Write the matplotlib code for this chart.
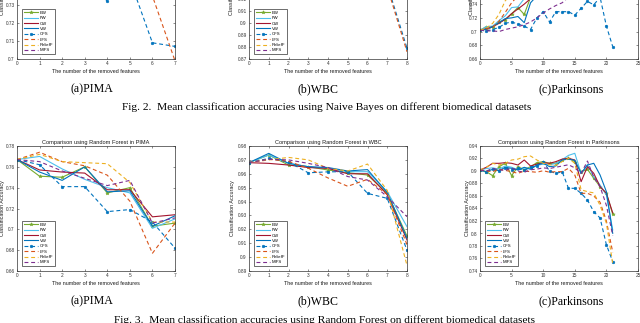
import matplotlib
matplotlib.use('Agg')
import matplotlib.pyplot as plt
from matplotlib.ticker import FuncFormatter, MultipleLocator

plt.rcParams['font.family'] = ['Liberation Sans', 'DejaVu Sans']

LABELS = ['EW', 'FW', 'CW', 'VW', 'CFS', 'LFS', 'ReliefF', 'MIFS']

# ---- Naive Bayes (Fig. 2), series in LABELS order ----
nb_pima = [
    [0.759, 0.760, 0.762, 0.763, 0.760, 0.758, 0.752, 0.748],
    [0.759, 0.761, 0.762, 0.762, 0.760, 0.757, 0.751, 0.747],
    [0.759, 0.760, 0.761, 0.762, 0.761, 0.758, 0.753, 0.749],
    [0.759, 0.761, 0.763, 0.763, 0.761, 0.758, 0.752, 0.748],
    [0.759, 0.757, 0.752, 0.748, 0.732, 0.744, 0.709, 0.707],
    [0.759, 0.758, 0.756, 0.753, 0.750, 0.748, 0.735, 0.699],
    [0.759, 0.762, 0.763, 0.762, 0.760, 0.756, 0.750, 0.745],
    [0.759, 0.758, 0.757, 0.756, 0.754, 0.752, 0.748, 0.745],
]
nb_wbc = [
    [0.955, 0.958, 0.960, 0.960, 0.958, 0.957, 0.955, 0.950, 0.935],
    [0.955, 0.957, 0.959, 0.960, 0.959, 0.957, 0.954, 0.948, 0.932],
    [0.955, 0.958, 0.960, 0.961, 0.960, 0.958, 0.955, 0.950, 0.936],
    [0.955, 0.957, 0.959, 0.960, 0.958, 0.956, 0.954, 0.949, 0.933],
    [0.955, 0.955, 0.953, 0.950, 0.948, 0.945, 0.940, 0.932, 0.879],
    [0.955, 0.953, 0.950, 0.948, 0.946, 0.944, 0.938, 0.930, 0.876],
    [0.955, 0.956, 0.956, 0.955, 0.953, 0.950, 0.946, 0.940, 0.925],
    [0.955, 0.955, 0.954, 0.952, 0.950, 0.947, 0.943, 0.937, 0.921],
]
nb_park = [
    [0.702, 0.707, 0.707, 0.714, 0.717, 0.726, 0.735, 0.725, 0.750, 0.760, 0.765,
     0.770, 0.772, 0.775, 0.778, 0.780, 0.782, 0.785, 0.788, 0.790, 0.785, 0.780],
    [0.702, 0.707, 0.708, 0.716, 0.723, 0.735, 0.736, 0.748, 0.755, 0.760, 0.764,
     0.768, 0.772, 0.776, 0.779, 0.781, 0.783, 0.786, 0.789, 0.788, 0.784, 0.778],
    [0.702, 0.704, 0.707, 0.712, 0.718, 0.726, 0.733, 0.740, 0.748, 0.755, 0.760,
     0.765, 0.770, 0.774, 0.777, 0.780, 0.782, 0.784, 0.786, 0.787, 0.783, 0.779],
    [0.702, 0.703, 0.707, 0.713, 0.719, 0.720, 0.722, 0.713, 0.742, 0.752, 0.758,
     0.763, 0.768, 0.772, 0.776, 0.779, 0.781, 0.784, 0.787, 0.786, 0.782, 0.776],
    [0.702, 0.701, 0.703, 0.706, 0.712, 0.714, 0.711, 0.708, 0.703, 0.720, 0.729,
     0.714, 0.729, 0.729, 0.729, 0.724, 0.734, 0.744, 0.739, 0.750, 0.708, 0.678],
    [0.702, 0.703, 0.706, 0.715, 0.728, 0.742, 0.752, 0.758, 0.762, 0.766, 0.770,
     0.772, 0.775, 0.777, 0.779, 0.780, 0.781, 0.782, 0.783, 0.781, 0.776, 0.770],
    [0.702, 0.705, 0.712, 0.725, 0.745, 0.755, 0.760, 0.764, 0.768, 0.771, 0.774,
     0.776, 0.778, 0.780, 0.782, 0.784, 0.785, 0.786, 0.786, 0.784, 0.779, 0.772],
    [0.702, 0.701, 0.701, 0.700, 0.703, 0.705, 0.707, 0.710, 0.714, 0.720, 0.727,
     0.733, 0.738, 0.742, 0.750, 0.755, 0.760, 0.764, 0.767, 0.768, 0.765, 0.760],
]

# ---- Random Forest (Fig. 3) ----
rf_pima = [
    [0.767, 0.751, 0.750, 0.760, 0.735, 0.740, 0.703, 0.706],
    [0.767, 0.770, 0.758, 0.748, 0.740, 0.735, 0.701, 0.710],
    [0.767, 0.757, 0.755, 0.754, 0.738, 0.738, 0.712, 0.714],
    [0.767, 0.755, 0.747, 0.760, 0.736, 0.737, 0.703, 0.713],
    [0.767, 0.762, 0.741, 0.741, 0.717, 0.719, 0.707, 0.682],
    [0.767, 0.774, 0.765, 0.761, 0.752, 0.727, 0.677, 0.706],
    [0.767, 0.772, 0.765, 0.764, 0.763, 0.745, 0.707, 0.707],
    [0.767, 0.765, 0.756, 0.749, 0.742, 0.747, 0.706, 0.711],
]
rf_wbc = [
    [0.968, 0.9735, 0.9663, 0.9651, 0.9627, 0.9608, 0.9591, 0.9459, 0.9152],
    [0.968, 0.9735, 0.9675, 0.9651, 0.9639, 0.9615, 0.9615, 0.9471, 0.9219],
    [0.968, 0.9675, 0.9663, 0.9645, 0.9639, 0.9600, 0.9600, 0.9450, 0.9123],
    [0.968, 0.9747, 0.9675, 0.9651, 0.9645, 0.9620, 0.9630, 0.9465, 0.9135],
    [0.968, 0.9711, 0.9685, 0.9607, 0.9614, 0.9615, 0.9459, 0.9423, 0.9050],
    [0.968, 0.9704, 0.9690, 0.9640, 0.9570, 0.9510, 0.9560, 0.9450, 0.9090],
    [0.968, 0.9700, 0.9718, 0.9700, 0.9639, 0.9620, 0.9670, 0.9480, 0.8940],
    [0.968, 0.9704, 0.9700, 0.9675, 0.9645, 0.9580, 0.9555, 0.9435, 0.9291],
]
rf_park = [
    [0.9016, 0.8990, 0.8925, 0.9070, 0.9123, 0.8925, 0.9070, 0.9020, 0.9070, 0.9133, 0.9150,
     0.9123, 0.9123, 0.9176, 0.9203, 0.9150, 0.8989, 0.9027, 0.8883, 0.8749, 0.8643, 0.8310],
    [0.9016, 0.9040, 0.9050, 0.9030, 0.9080, 0.9060, 0.9020, 0.9050, 0.9040, 0.9090, 0.9110,
     0.9100, 0.9120, 0.9180, 0.9250, 0.9283, 0.8960, 0.9100, 0.8909, 0.8776, 0.8616, 0.8056],
    [0.9016, 0.9059, 0.9123, 0.9123, 0.9133, 0.9123, 0.9096, 0.9176, 0.9080, 0.9110, 0.9133,
     0.9123, 0.9150, 0.9190, 0.9203, 0.9176, 0.8829, 0.9070, 0.8963, 0.8749, 0.8643, 0.8330],
    [0.9016, 0.8989, 0.9027, 0.9005, 0.9059, 0.9043, 0.9016, 0.9059, 0.9027, 0.9096, 0.9123,
     0.9070, 0.9080, 0.9176, 0.9190, 0.9170, 0.8963, 0.9096, 0.9123, 0.8936, 0.8669, 0.8003],
    [0.9016, 0.8990, 0.9030, 0.9000, 0.9050, 0.9020, 0.9040, 0.9010, 0.9060, 0.9080, 0.9150,
     0.9000, 0.8960, 0.8989, 0.8723, 0.8723, 0.8643, 0.8536, 0.8349, 0.8248, 0.7820, 0.7550],
    [0.9016, 0.9000, 0.8989, 0.9027, 0.9010, 0.8989, 0.8963, 0.9000, 0.8989, 0.8980, 0.9005,
     0.8980, 0.8990, 0.8989, 0.9043, 0.8936, 0.8643, 0.8643, 0.8600, 0.8500, 0.8200, 0.7700],
    [0.9016, 0.9059, 0.9123, 0.9096, 0.9123, 0.9176, 0.9190, 0.9229, 0.9240, 0.9176, 0.9123,
     0.9100, 0.9090, 0.9150, 0.9203, 0.9123, 0.8700, 0.8669, 0.8650, 0.8450, 0.8163, 0.7520],
    [0.9016, 0.9000, 0.9040, 0.9020, 0.9010, 0.9050, 0.9000, 0.8980, 0.9020, 0.9030, 0.9050,
     0.9040, 0.9060, 0.9080, 0.9100, 0.9050, 0.8960, 0.9160, 0.8900, 0.8750, 0.8450, 0.7970],
]

STYLES = [
    dict(color=(0.47, 0.67, 0.19), ls='-', marker='*', ms=2.6),
    dict(color=(0.30, 0.75, 0.93), ls='-'),
    dict(color=(0.64, 0.08, 0.18), ls='-'),
    dict(color=(0.00, 0.45, 0.74), ls='-'),
    dict(color=(0.00, 0.45, 0.74), ls='--', marker='o', ms=1.9),
    dict(color=(0.85, 0.33, 0.10), ls='--'),
    dict(color=(0.93, 0.69, 0.13), ls='--'),
    dict(color=(0.49, 0.18, 0.56), ls='--'),
]

W, H = 640, 323
fig = plt.figure(figsize=(6.4, 3.23), dpi=100)
AX_COL = '0.2'


def make_axes(left, right, top, bottom):
    return fig.add_axes([left / W, 1 - bottom / H, (right - left) / W, (bottom - top) / H])


def draw_panel(box, series, xmax, xstep, ylim, ystep, title, ylab_x, legend_loc):
    ax = make_axes(*box)
    for vals, st in zip(series, STYLES):
        ax.plot(range(len(vals)), vals, lw=0.8, dashes=(3.5, 2.5) if st['ls'] == '--' else (None, None),
                color=st['color'], marker=st.get('marker', None), ms=st.get('ms', 0),
                mew=0.4, label=None)
    ax.set_xlim(0, xmax)
    ax.set_ylim(*ylim)
    ax.xaxis.set_major_locator(MultipleLocator(xstep))
    ax.yaxis.set_major_locator(MultipleLocator(ystep))
    ax.yaxis.set_major_formatter(FuncFormatter(lambda v, p: f'{round(v, 4):g}'))
    ax.tick_params(direction='in', length=1.6, width=0.4, labelsize=3.4, pad=1.6,
                   colors=AX_COL, top=True, right=True)
    for s in ax.spines.values():
        s.set_linewidth(0.5)
        s.set_color(AX_COL)
    ax.set_xlabel('The number of the removed features', fontsize=3.9, labelpad=2.0, color='0.1')
    ax.set_ylabel('Classification Accuracy', fontsize=3.9, color='0.1')
    ax.yaxis.set_label_coords(ylab_x, 0.5)
    ax.set_title(title, fontsize=4.1, pad=1.5, color='0.1')
    h = box[3] - box[2]
    w = box[1] - box[0]
    if legend_loc == 'lower left':
        anchor = (5 / w, 5 / h)
    else:
        anchor = (5 / w, 1 - 5 / h)
    leg = ax.legend(ax.get_lines(), LABELS, loc=legend_loc, bbox_to_anchor=anchor,
                    borderaxespad=0, fontsize=3.1, handlelength=3.4, labelspacing=0.32,
                    borderpad=0.35, handletextpad=0.4, fancybox=False, edgecolor=AX_COL,
                    framealpha=1)
    leg.get_frame().set_linewidth(0.5)
    return ax


TOP = (-85, 59)
BOT = (146, 271)

draw_panel((17, 175) + TOP, nb_pima, 7, 1, (0.70, 0.78), 0.01,
           'Comparison using Naive Bayes in PIMA', -0.079, 'lower left')
draw_panel((249, 407) + TOP, nb_wbc, 8, 1, (0.87, 0.99), 0.01,
           'Comparison using Naive Bayes in WBC', -0.092, 'lower left')
draw_panel((480, 638) + TOP, nb_park, 25, 5, (0.66, 0.87), 0.02,
           'Comparison using Naive Bayes in Parkinsons', -0.035, 'upper left')

draw_panel((17, 175) + BOT, rf_pima, 7, 1, (0.66, 0.78), 0.02,
           'Comparison using Random Forest in PIMA', -0.073, 'lower left')
draw_panel((249, 407) + BOT, rf_wbc, 8, 1, (0.89, 0.98), 0.01,
           'Comparison using Random Forest in WBC', -0.089, 'lower left')
draw_panel((480, 638) + BOT, rf_park, 25, 5, (0.74, 0.94), 0.02,
           'Comparison using Random Forest in Parkinsons', -0.066, 'lower left')

serif = ['Liberation Serif', 'DejaVu Serif']
for y in (89, 301):
    for x, s in ((92, '(a)PIMA'), (318, '(b)WBC'), (571, '(c)Parkinsons')):
        fig.text(x / W, 1 - y / H, s, ha='center', va='center', fontsize=8.6, family=serif)

fig.text(327 / W, 1 - 107 / H,
         'Fig. 2.  Mean classification accuracies using Naive Bayes on different biomedical datasets',
         ha='center', va='center', fontsize=8.2, family=serif)
fig.text(325 / W, 1 - 320 / H,
         'Fig. 3.  Mean classification accuracies using Random Forest on different biomedical datasets',
         ha='center', va='center', fontsize=8.2, family=serif)

fig.savefig('out.png', dpi=100)
